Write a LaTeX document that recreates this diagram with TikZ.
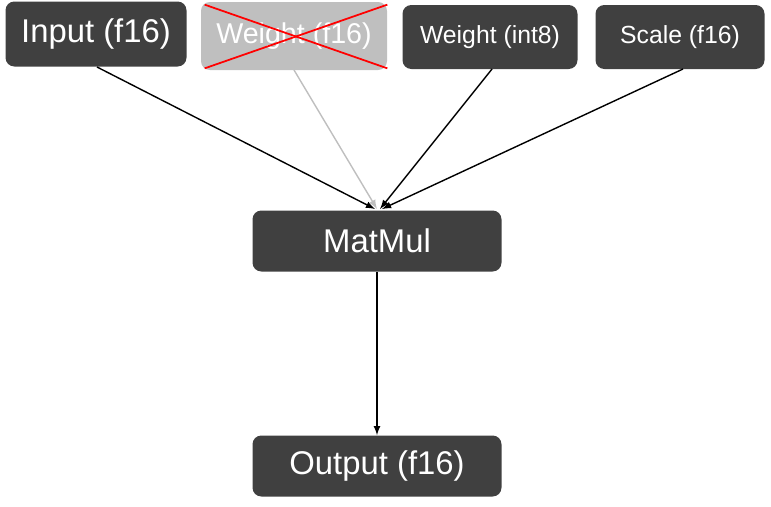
\documentclass[tikz,border=0pt]{standalone}
\usepackage{fontspec}
\setmainfont{Liberation Sans}
\usetikzlibrary{calc}
\definecolor{boxdark}{HTML}{404040}
\definecolor{boxgray}{HTML}{BFBFBF}
\begin{document}
\begin{tikzpicture}[x=0.02cm,y=-0.02cm,
  box/.style={fill=boxdark,text=white,rounded corners=5pt,inner sep=0pt,anchor=center},
  big/.style={font=\fontsize{18.7}{20}\selectfont},
  mid/.style={font=\fontsize{16.3}{18}\selectfont},
  small/.style={font=\fontsize{14.1}{16}\selectfont},
  conn/.style={-latex,line width=0.8pt}]
\useasboundingbox (0,0) rectangle (771,507);
\node[box,big,minimum width=181*0.02cm,minimum height=65*0.02cm] (in) at (96,34) {Input (f16)};
\node[box,mid,fill=boxgray,minimum width=186*0.02cm,minimum height=68*0.02cm] (wf) at (294,36) {Weight (f16)};
\node[box,small,minimum width=175*0.02cm,minimum height=64*0.02cm] (wi) at (490,37) {Weight (int8)};
\node[box,small,minimum width=169*0.02cm,minimum height=64*0.02cm] (sc) at (680,37) {Scale (f16)};
\node[box,big,minimum width=249*0.02cm,minimum height=61*0.02cm] (mm) at (377,241) {MatMul};
\node[box,big,minimum width=249*0.02cm,minimum height=61*0.02cm] (out) at (377,466) {Output (f16)};
\draw[red,line width=1pt] ($(wf.north west)+(4,3)$) -- ($(wf.south east)+(0,-2)$);
\draw[red,line width=1pt] ($(wf.south west)+(4,-2)$) -- ($(wf.north east)+(0,3)$);
\coordinate (m1) at (375,209);
\coordinate (m2) at (377,209);
\coordinate (m3) at (380,209);
\coordinate (m4) at (382,209);
\coordinate (s1) at (97,67);
\coordinate (s2) at (294,70);
\coordinate (s3) at (492,69);
\coordinate (s4) at (683,69);
\draw[conn] (s1) -- (m1);
\draw[conn,boxgray] (s2) -- (m2);
\draw[conn] (s3) -- (m3);
\draw[conn] (s4) -- (m4);
\draw[conn] (mm.south) -- (out.north);
\end{tikzpicture}
\end{document}
